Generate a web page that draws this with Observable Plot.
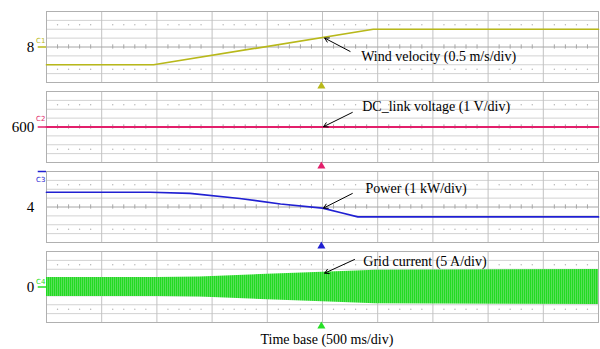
<!DOCTYPE html>
<html><head><meta charset="utf-8">
<script src="https://cdn.jsdelivr.net/npm/d3@7"></script>
<script src="https://cdn.jsdelivr.net/npm/@observablehq/plot@0.6"></script>
<style>
html,body{margin:0;padding:0;background:#fff;}
#chart{width:600px;height:349px;}
</style></head><body><div id="chart"></div>
<script>
// channel meta
const channels = ["C1", "C2", "C3", "C4"];
const centerLabels = ["8", "600", "4", "0"];
const centerValues = [8, 600, 4, 0];
const perDivision = [0.5, 1, 1, 5];
const traceColors = ["#b8b81a", "#e21f6b", "#2020d2", "#26e026"];
const notes = ["Wind velocity (0.5 m/s/div)", "DC_link voltage (1 V/div)", "Power (1 kW/div)", "Grid current (5 A/div)"];
const timeLabel = "Time base (500 ms/div)";

// traces (time in s, 500 ms/div)
const windTime = [0, 0.97, 2.96, 5];
const windSpeed = [7.5, 7.5, 8.5, 8.5];
const dcTime = [0, 5];
const dcVoltage = [600, 600];
const powerTime = [0, 0.94, 1.30, 1.75, 2.12, 2.50, 2.66, 2.82, 5];
const powerKW = [4.83, 4.83, 4.77, 4.48, 4.17, 3.94, 3.69, 3.44, 3.44];
const currentTime = [0, 1.0, 1.39, 2.0, 2.5, 2.98, 5];
const currentAmp = [2.7, 2.7, 2.82, 3.6, 4.14, 4.73, 4.93];

// annotation anchors (time s, divisions)
const noteTime = [2.85, 2.86, 2.89, 2.87];
const noteDiv = [-0.54, 1.16, 1.04, 1.44];
const arrowFromTime = [2.75, 2.77, 2.77, 2.79];
const arrowFromDiv = [-0.25, 0.82, 0.76, 1.55];
const arrowToTime = [2.52, 2.51, 2.51, 2.52];
const arrowToDiv = [0.5, 0.02, -0.06, 0.78];
const chLabelDiv = [0.35, 0.45, 1.55, 0.3];
const groundDiv = [0, 0, 2, 0];
const triggerTime = 2.49;

const toDiv = (i, v) => (v - centerValues[i]) / perDivision[i];
const rows = (i, ts, vs) => ts.map((t, k) => ({ch: channels[i], t, div: toDiv(i, vs[k])}));

const windRows = rows(0, windTime, windSpeed);
const dcRows = rows(1, dcTime, dcVoltage);
const powerRows = rows(2, powerTime, powerKW);
const currentRows = currentTime.map((t, k) => ({ch: channels[3], t, amp: currentAmp[k] / perDivision[3]}));

const majorT = d3.range(1, 10).map(i => i / 2);
const minorT = d3.range(1, 50).filter(i => i % 5).map(i => i / 10);
const dotRows = minorT.flatMap(t => [{t, y: 1.25}, {t, y: -1.25}]);

const chart = Plot.plot({
  width: 600,
  height: 349,
  marginLeft: 46,
  marginRight: 2,
  marginTop: 10,
  marginBottom: 27,
  style: {fontFamily: "'Liberation Serif', serif", background: "white", overflow: "visible"},
  x: {domain: [0, 5], axis: null},
  y: {domain: [-2, 2], axis: null},
  fy: {domain: channels, axis: null, paddingInner: 0.1162, paddingOuter: 0},
  color: {type: "identity"},
  marks: [
    Plot.ruleY([-1.5, -1, -0.5, 0.5, 1, 1.5], {stroke: "#d2d2d2", strokeWidth: 1}),
    Plot.ruleX(majorT, {stroke: "#c2c2c2", strokeWidth: 1}),
    Plot.ruleY([0], {stroke: "#a6a6a6", strokeWidth: 1}),
    Plot.ruleX(minorT, {y1: -0.12, y2: 0.12, stroke: "#a6a6a6", strokeWidth: 1}),
    Plot.dot(dotRows, {x: "t", y: "y", r: 0.7, fill: "#b4b4b4", stroke: null}),
    Plot.frame({stroke: "#b0b0b0"}),
    Plot.areaY(currentRows, {x: "t", y1: d => -d.amp, y2: d => d.amp, fy: "ch", fill: "url(#gridStripes)"}),
    Plot.line(windRows, {x: "t", y: "div", fy: "ch", stroke: traceColors[0], strokeWidth: 1.7}),
    Plot.line(dcRows, {x: "t", y: "div", fy: "ch", stroke: traceColors[1], strokeWidth: 1.8}),
    Plot.line(powerRows, {x: "t", y: "div", fy: "ch", stroke: traceColors[2], strokeWidth: 1.7}),
    Plot.ruleY(channels, {fy: d => d, y: (d, i) => groundDiv[i], x1: -0.075, x2: 0, stroke: (d, i) => traceColors[i], strokeWidth: 1.5}),
    Plot.text(channels, {fy: d => d, x: -0.052, y: (d, i) => chLabelDiv[i], text: d => d, fill: (d, i) => traceColors[i], fontSize: 7, fontFamily: "'DejaVu Sans', sans-serif"}),
    Plot.text(channels, {fy: d => d, x: -0.11, y: 0, text: (d, i) => centerLabels[i], textAnchor: "end", fontSize: 15, fill: "black"}),
    Plot.dot(channels, {fy: d => d, x: triggerTime, y: -2.2, symbol: "triangle", r: 3, fill: (d, i) => traceColors[i], stroke: null}),
    Plot.arrow(channels, {fy: d => d, x1: (d, i) => arrowFromTime[i], y1: (d, i) => arrowFromDiv[i], x2: (d, i) => arrowToTime[i], y2: (d, i) => arrowToDiv[i], stroke: "black", strokeWidth: 1, headLength: 7}),
    Plot.text(channels, {fy: d => d, x: (d, i) => noteTime[i], y: (d, i) => noteDiv[i], text: (d, i) => notes[i], textAnchor: "start", fontSize: 14, fill: "black"}),
    Plot.text([timeLabel], {fy: () => "C4", x: 2.54, y: -2.96, text: d => d, fontSize: 14, fill: "black"})
  ]
});

const ns = "http://www.w3.org/2000/svg";
const defs = document.createElementNS(ns, "defs");
defs.innerHTML = '<pattern id="gridStripes" patternUnits="userSpaceOnUse" width="2" height="6"><rect width="2" height="6" fill="#6fe26f"/><rect width="1.3" height="6" fill="#22da22"/></pattern>';
chart.insertBefore(defs, chart.firstChild);
document.getElementById("chart").appendChild(chart);
</script>
</body></html>
